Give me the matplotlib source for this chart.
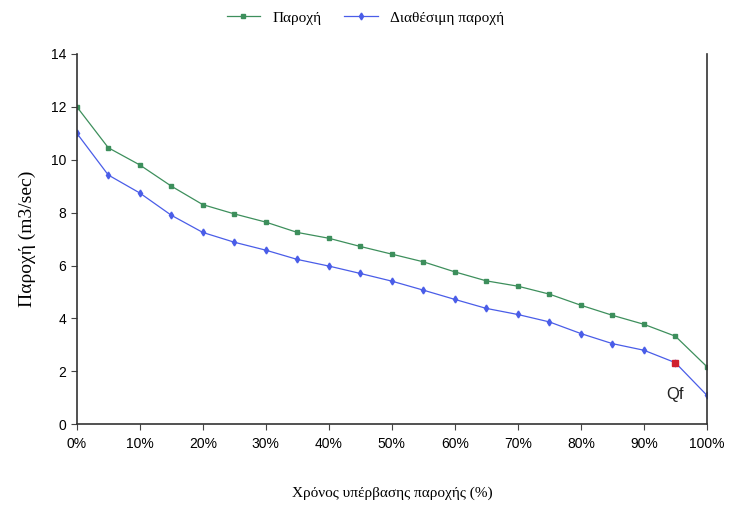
import matplotlib
matplotlib.use('Agg')
import matplotlib.pyplot as plt
import numpy as np

# Exceedance time (%) and flows (m3/sec)
exceed = [0, 5, 10, 15, 20, 25, 30, 35, 40, 45, 50, 55, 60, 65, 70, 75, 80, 85, 90, 95, 100]
flow = [12.0, 10.45, 9.8, 9.0, 8.3, 7.95, 7.64, 7.25, 7.03, 6.72, 6.43, 6.14, 5.76, 5.42,
        5.22, 4.92, 4.5, 4.12, 3.78, 3.33, 2.18]
avail_flow = [11.0, 9.42, 8.74, 7.9, 7.25, 6.88, 6.58, 6.23, 5.98, 5.7, 5.41, 5.07, 4.72,
              4.38, 4.15, 3.87, 3.43, 3.05, 2.8, 2.33, 1.1]
qf_x = 95
qf_y = 2.33

xticks = [0, 10, 20, 30, 40, 50, 60, 70, 80, 90, 100]
xtick_labels = [f"{t}%" for t in xticks]
yticks = [0, 2, 4, 6, 8, 10, 12, 14]

green = '#3d8f5c'
blue = '#4a5de8'

fig = plt.figure(figsize=(7.31, 5.07), dpi=100)
ax = fig.add_axes([0.105, 0.163, 0.862, 0.731])

l1, = ax.plot(exceed, flow, color=green, lw=0.9, marker='s', ms=3, label='Παροχή')
l2, = ax.plot(exceed, avail_flow, color=blue, lw=0.9, marker='d', ms=3.5, label='Διαθέσιμη παροχή')
ax.plot([qf_x], [qf_y], marker='s', color='#d0202e', ms=5, ls='none', zorder=5)
# label under the Qf point
ax.text(qf_x, qf_y - 0.9, 'Qf', ha='center', va='top', fontsize=12,
        family='Liberation Sans', color='#222222')

ax.set_xlim(0, 100)
ax.set_ylim(0, 14)
ax.set_xticks(xticks)
ax.set_xticklabels(xtick_labels, family='Liberation Sans', fontsize=10)
ax.set_yticks(yticks)
ax.set_yticklabels([str(t) for t in yticks], family='Liberation Sans', fontsize=10)
ax.tick_params(direction='out', length=4, color='#444444')
ax.tick_params(axis='x', pad=5)

ax.spines['top'].set_visible(False)
for s in ['left', 'right', 'bottom']:
    ax.spines[s].set_color('#333333')
    ax.spines[s].set_linewidth(1.2)

ax.set_xlabel('Χρόνος υπέρβασης παροχής (%)', family='Liberation Serif', fontsize=11, labelpad=26)
ax.set_ylabel('Παροχή (m3/sec)', family='Liberation Serif', fontsize=14, labelpad=11)

fig.legend(handles=[l1, l2], loc='center', bbox_to_anchor=(0.5, 0.965), ncol=2,
           frameon=False, prop={'family': 'Liberation Serif', 'size': 11},
           handlelength=2.2, columnspacing=1.5)

fig.savefig('out.png', dpi=100)
